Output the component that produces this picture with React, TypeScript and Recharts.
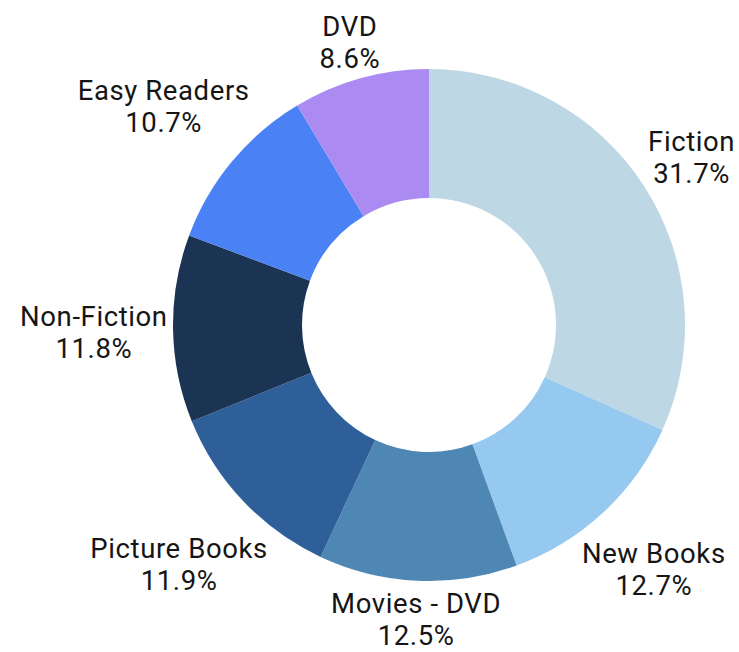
import { PieChart, Pie, Cell } from "recharts";

const categories = ["Fiction", "New Books", "Movies - DVD", "Picture Books", "Non-Fiction", "Easy Readers", "DVD"];
const shares = [31.7, 12.7, 12.5, 11.9, 11.8, 10.7, 8.6];
const colors = ["#bed7e4", "#96c9ef", "#4e86b4", "#2e5f98", "#1b3453", "#4a82f5", "#ab8bf2"];

const data = categories.map((name, i) => ({ name, value: shares[i] }));

const FONT = "Roboto, 'Noto Sans', sans-serif";
const FONT_SIZE = 27.5;
const SPACING = 0.6;
const LINE = 32;
const RADIAN = Math.PI / 180;

let ctx: CanvasRenderingContext2D | null = null;
function textWidth(s: string) {
  if (!ctx) ctx = document.createElement("canvas").getContext("2d");
  if (!ctx) return s.length * FONT_SIZE * 0.55;
  ctx.font = `${FONT_SIZE}px Roboto`;
  return ctx.measureText(s).width + s.length * SPACING;
}

function renderLabel(props: any) {
  const { cx, cy, midAngle, outerRadius, name, value } = props;
  const cos = Math.cos(-midAngle * RADIAN);
  const sin = Math.sin(-midAngle * RADIAN);
  const pct = `${Number(value).toFixed(1)}%`;
  const w = Math.max(textWidth(name), textWidth(pct));
  const h = LINE * 2 - 8;
  const d = outerRadius + 5 + (w / 2) * Math.abs(cos) + (h / 2) * Math.abs(sin);
  const x = cx + d * cos;
  const y = cy + d * sin;
  return (
    <text
      x={x}
      y={y}
      textAnchor="middle"
      fill="#151515"
      fontFamily={FONT}
      fontSize={FONT_SIZE}
      letterSpacing={SPACING}
    >
      <tspan x={x} dy={-LINE / 2 + 12}>{name}</tspan>
      <tspan x={x} dy={LINE}>{pct}</tspan>
    </text>
  );
}

export default function App() {
  return (
    <div style={{ position: "absolute", left: 0, top: 0, width: 739, height: 652, background: "#fff" }}>
      <PieChart width={739} height={652} margin={{ top: 0, right: 0, bottom: 0, left: 0 }}>
        <Pie
          data={data}
          dataKey="value"
          nameKey="name"
          cx={429}
          cy={325}
          innerRadius={127}
          outerRadius={256}
          startAngle={90}
          endAngle={-270}
          stroke="none"
          label={renderLabel}
          labelLine={false}
          isAnimationActive={false}
        >
          {data.map((d, i) => (
            <Cell key={d.name} fill={colors[i]} />
          ))}
        </Pie>
      </PieChart>
    </div>
  );
}
